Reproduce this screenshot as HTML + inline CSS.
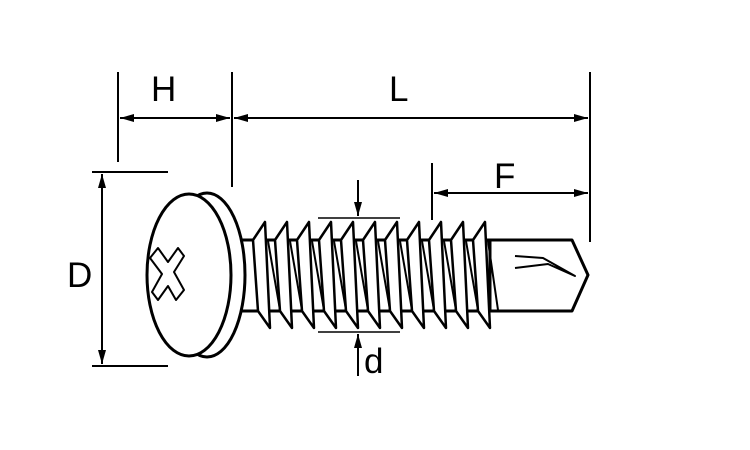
<!DOCTYPE html><html><head><style>body{margin:0;background:#fff}svg{display:block}</style></head><body>
<svg width="750" height="450" viewBox="0 0 750 450" xmlns="http://www.w3.org/2000/svg">
<defs><marker id="a" markerWidth="14" markerHeight="8" refX="14" refY="4" orient="auto-start-reverse" markerUnits="userSpaceOnUse"><path d="M0,0 L14,4 L0,8 Z" fill="#000"/></marker></defs>
<g stroke="#000" stroke-width="2" fill="none">
<line x1="118" y1="72" x2="118" y2="162"/><line x1="232" y1="72" x2="232" y2="187"/>
<line x1="590" y1="72" x2="590" y2="242"/><line x1="432" y1="163" x2="432" y2="220"/>
<line x1="120" y1="118" x2="230" y2="118" marker-start="url(#a)" marker-end="url(#a)"/>
<line x1="234" y1="118" x2="588" y2="118" marker-start="url(#a)" marker-end="url(#a)"/>
<line x1="434" y1="193" x2="588" y2="193" marker-start="url(#a)" marker-end="url(#a)"/>
<line x1="92" y1="172" x2="168" y2="172"/><line x1="92" y1="366" x2="168" y2="366"/>
<line x1="102" y1="174" x2="102" y2="364" marker-start="url(#a)" marker-end="url(#a)"/>
<line x1="318" y1="218" x2="400" y2="218" stroke-width="1.5"/><line x1="318" y1="332" x2="400" y2="332" stroke-width="1.5"/>
<line x1="358" y1="180" x2="358" y2="216" marker-end="url(#a)"/>
<line x1="358" y1="376" x2="358" y2="334" marker-end="url(#a)"/>
</g>
<g stroke="#000" stroke-width="3" fill="#fff" stroke-linejoin="round">
<rect x="240" y="240" width="260" height="71"/>
<path d="M490,240 L572,240 L588,275 L572,311 L490,311 Z"/>
<g stroke-width="2.5">
<path id="t" d="M253,240 L265,222 L270,328 L258,311 Z"/>
<use href="#t" x="22"/><use href="#t" x="44"/><use href="#t" x="66"/><use href="#t" x="88"/><use href="#t" x="110"/><use href="#t" x="132"/><use href="#t" x="154"/><use href="#t" x="176"/><use href="#t" x="198"/><use href="#t" x="220"/>
</g>
<g stroke-width="2" fill="none">
<path d="M268,241 L280,310 M290,241 L302,310 M312,241 L324,310 M334,241 L346,310 M356,241 L368,310 M378,241 L390,310 M400,241 L412,310 M422,241 L434,310 M444,241 L456,310 M466,241 L478,310 M488,241 L498,310"/>
<path d="M515,256 L543,258 L575,276 L548,264 L515,268"/>
</g>
<ellipse cx="207" cy="275" rx="38" ry="82"/>
<ellipse cx="189" cy="275" rx="42" ry="81"/>
<path d="M150,258 L158,248 L168,262 L178,248 L184,256 L174,272 L184,290 L176,300 L168,286 L158,300 L152,292 L162,274 Z" stroke-width="2"/>
</g>
<g font-family="Liberation Sans, sans-serif" font-size="35" fill="#000">
<text x="151" y="101">H</text><text x="389" y="101">L</text><text x="494" y="188">F</text>
<text x="67" y="287">D</text><text x="364" y="373">d</text>
</g>
</svg></body></html>
